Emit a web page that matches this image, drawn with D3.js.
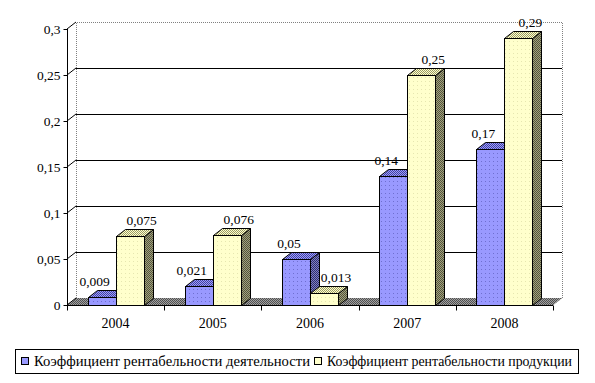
<!DOCTYPE html>
<html>
<head>
<meta charset="utf-8">
<script src="https://cdn.jsdelivr.net/npm/d3@7"></script>
<style>
  html, body { margin: 0; padding: 0; background: #fff; }
  svg { display: block; }
</style>
</head>
<body>
<svg id="chart" width="595" height="383"></svg>
<script>
const categories = ["2004", "2005", "2006", "2007", "2008"];
const seriesNames = ["Коэффициент рентабельности деятельности", "Коэффициент рентабельности продукции"];
const activityValues = [0.009, 0.021, 0.05, 0.14, 0.17];
const productValues = [0.075, 0.076, 0.013, 0.25, 0.29];
const yTicks = [0, 0.05, 0.1, 0.15, 0.2, 0.25, 0.3];

(function () {
const FONT = "'Liberation Serif', 'Times New Roman', serif";
const svg = d3.select("#chart");
const plotLeft = 67, plotRight = 553, plotBottom = 305, plotTop = 29;
const dx = 9, dy = -7;

const defs = svg.append("defs");
function checker(id, a, b) {
  const p = defs.append("pattern").attr("id", id).attr("patternUnits", "userSpaceOnUse")
    .attr("width", 2).attr("height", 2);
  p.append("rect").attr("width", 2).attr("height", 2).attr("fill", a);
  p.append("rect").attr("width", 1).attr("height", 1).attr("fill", b);
  p.append("rect").attr("x", 1).attr("y", 1).attr("width", 1).attr("height", 1).attr("fill", b);
}
function dotted(id, base, dot) {
  const p = defs.append("pattern").attr("id", id).attr("patternUnits", "userSpaceOnUse")
    .attr("width", 4).attr("height", 4);
  p.append("rect").attr("width", 4).attr("height", 4).attr("fill", base);
  p.append("rect").attr("x", 1).attr("y", 1).attr("width", 1).attr("height", 1).attr("fill", dot);
}
checker("floor", "#a0a0a0", "#505050");
dotted("blueFront", "#9999ff", "#6f6fd0");
checker("blueTop", "#9999ff", "#44449a");
checker("blueSide", "#8080c0", "#2e2e70");
dotted("yelFront", "#ffffcc", "#e6e6b0");
checker("yelTop", "#ffffcc", "#999966");
checker("yelSide", "#a0a080", "#55553a");

const series = [
  { name: seriesNames[0], values: activityValues, front: "url(#blueFront)", topF: "url(#blueTop)", side: "url(#blueSide)", swatch: "#9999ff", labelShift: -7 },
  { name: seriesNames[1], values: productValues, front: "url(#yelFront)", topF: "url(#yelTop)", side: "url(#yelSide)", swatch: "#ffffcc", labelShift: 12 }
];

const x0 = d3.scaleBand().domain(categories).range([plotLeft, plotRight]).padding(0);
const x1 = d3.scaleBand().domain([0, 1]).range([0, x0.bandwidth()]).paddingInner(0).paddingOuter(0.736);
const y = d3.scaleLinear().domain([0, 0.3]).range([plotBottom, plotTop]);
const fmt = v => String(v).replace(".", ",");

svg.append("path")
  .attr("d", `M${plotLeft},${plotBottom}L${plotRight},${plotBottom}L${plotRight + dx},${plotBottom + dy}L${plotLeft + dx},${plotBottom + dy}Z`)
  .attr("fill", "url(#floor)");

svg.append("path")
  .attr("d", `M${plotLeft + dx + 0.5},${plotBottom + dy}V${Math.round(y(0.3) + dy) + 0.5}H${plotRight + dx + 0.5}V${plotBottom + dy}`)
  .attr("fill", "none").attr("stroke", "#808080").attr("stroke-dasharray", "1,1");
svg.append("line").attr("x1", plotRight).attr("y1", plotBottom).attr("x2", plotRight + dx).attr("y2", plotBottom + dy)
  .attr("stroke", "#808080").attr("stroke-dasharray", "1,1");

yTicks.forEach(t => {
  const yy = y(t);
  svg.append("line").attr("x1", plotLeft).attr("y1", yy).attr("x2", plotLeft + dx).attr("y2", yy + dy)
    .attr("stroke", "#000").attr("stroke-width", 1);
  if (t > 0 && t < 0.3) {
    svg.append("line").attr("x1", plotLeft + dx).attr("y1", Math.round(yy + dy) + 0.5)
      .attr("x2", plotRight + dx).attr("y2", Math.round(yy + dy) + 0.5)
      .attr("stroke", "#000").attr("stroke-width", 1);
  }
});

const yAxis = d3.axisLeft(y).tickValues(yTicks).tickFormat(fmt).tickSize(4).tickPadding(3);
const gy = svg.append("g").attr("transform", `translate(${plotLeft + 0.5},0)`).call(yAxis);
gy.attr("font-family", FONT).attr("font-size", 13.5);
gy.select(".domain").attr("d", `M0,${y(0.3)}V${plotBottom}`).attr("stroke", "#000");

const gx = svg.append("g").attr("transform", `translate(0,${plotBottom + 0.5})`);
gx.append("line").attr("x1", plotLeft).attr("x2", plotRight).attr("stroke", "#000");
const bounds = categories.map(c => x0(c)).concat([plotRight]);
gx.selectAll("line.tick").data(bounds).join("line").attr("class", "tick")
  .attr("x1", d => Math.round(d) + 0.5).attr("x2", d => Math.round(d) + 0.5).attr("y1", 0).attr("y2", 5)
  .attr("stroke", "#000");
gx.selectAll("text").data(categories).join("text")
  .attr("x", d => x0(d) + x0.bandwidth() / 2).attr("y", 22).attr("text-anchor", "middle")
  .attr("font-family", FONT).attr("font-size", 14).text(d => d);

categories.forEach((c, i) => {
  series.forEach((s, j) => {
    const v = s.values[i];
    const bx = Math.round(x0(c) + x1(j)) + 0.5;
    const bw = Math.round(x1.bandwidth());
    const yt = Math.round(y(v)) + 0.5;
    const yb = plotBottom + 0.5;
    const g = svg.append("g").attr("stroke", "#000").attr("stroke-width", 1);
    g.append("path").attr("d", `M${bx + bw},${yt}L${bx + bw + dx},${yt + dy}L${bx + bw + dx},${yb + dy}L${bx + bw},${yb}Z`).attr("fill", s.side);
    g.append("path").attr("d", `M${bx},${yt}L${bx + dx},${yt + dy}L${bx + bw + dx},${yt + dy}L${bx + bw},${yt}Z`).attr("fill", s.topF);
    g.append("rect").attr("x", bx).attr("y", yt).attr("width", bw).attr("height", yb - yt).attr("fill", s.front);
  });
});

categories.forEach((c, i) => {
  series.forEach((s, j) => {
    const v = s.values[i];
    const cx = x0(c) + x1(j) + x1.bandwidth() / 2 + s.labelShift;
    svg.append("text").attr("x", cx).attr("y", y(v) - 11).attr("text-anchor", "middle")
      .attr("font-family", FONT).attr("font-size", 13.5).text(fmt(v));
  });
});

const boxX = 15, boxW = 563;
const lg = svg.append("g");
lg.append("rect").attr("x", boxX + 0.5).attr("y", 349.5).attr("width", boxW).attr("height", 24)
  .attr("fill", "#fff").attr("stroke", "#000");
const legendX = [21, 314];
const legendEnd = [legendX[1] - 4, boxX + boxW - 6];
series.forEach((s, j) => {
  lg.append("rect").attr("x", legendX[j] + 0.5).attr("y", 357.5).attr("width", 7).attr("height", 7)
    .attr("fill", s.swatch).attr("stroke", "#000");
  const tx = legendX[j] + 13;
  lg.append("text").attr("x", tx).attr("y", 366)
    .attr("font-family", FONT).attr("font-size", 14)
    .attr("textLength", legendEnd[j] - tx).attr("lengthAdjust", "spacingAndGlyphs")
    .text(s.name);
});
})();
</script>
</body>
</html>
